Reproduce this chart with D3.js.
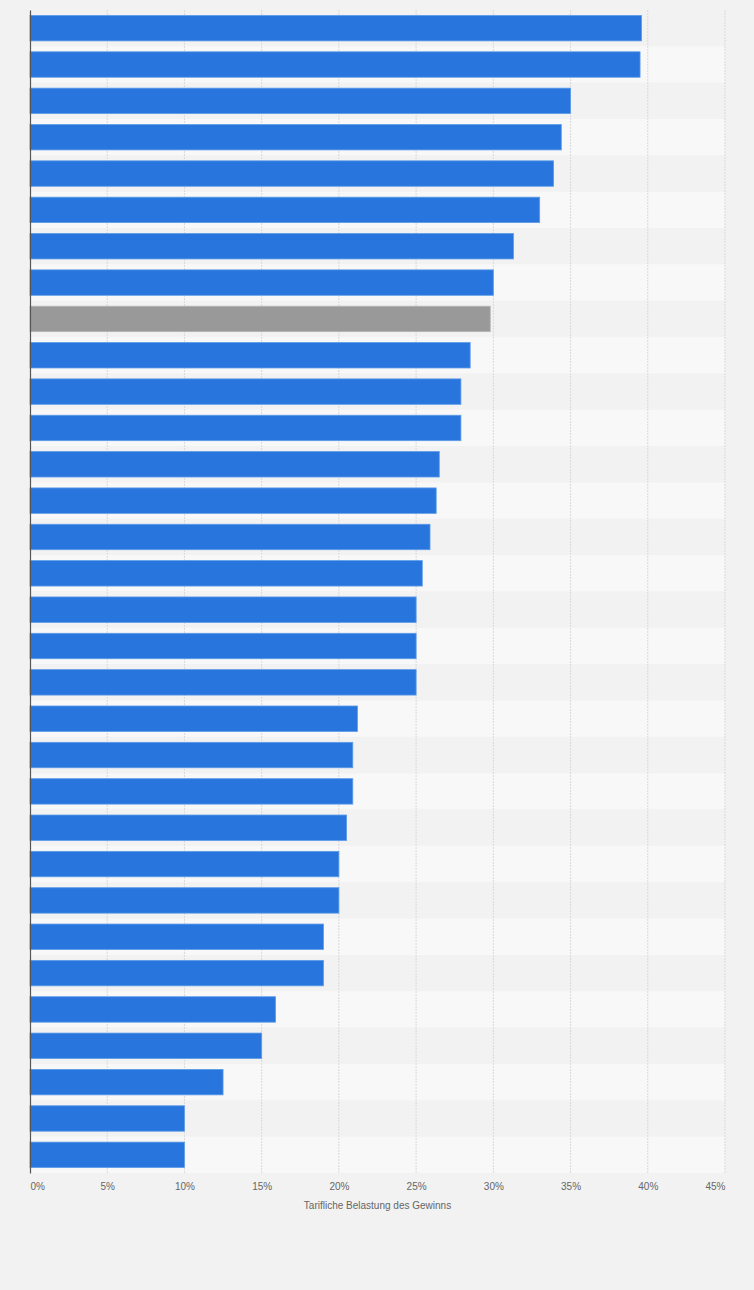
<!DOCTYPE html>
<html>
<head>
<meta charset="utf-8">
<script src="https://cdn.jsdelivr.net/npm/d3@7"></script>
<style>
  body { margin: 0; background: #f2f2f2; }
  svg { display: block; }
  .tick text { font-family: "Liberation Sans", Arial, sans-serif; font-size: 10px; fill: #666; }
</style>
</head>
<body>
<div id="chart"></div>
<script>
// Chart data
const categories = d3.range(1, 33).map(i => "Land " + i);
const values = [39.6, 39.5, 35, 34.4, 33.9, 33, 31.3, 30, 29.8, 28.5, 27.9, 27.9,
    26.5, 26.3, 25.9, 25.4, 25, 25, 25, 21.2, 20.9, 20.9, 20.5, 20,
    20, 19, 19, 15.9, 15, 12.5, 10, 10];
const highlighted = [8];
const xTicks = [0, 5, 10, 15, 20, 25, 30, 35, 40, 45];
const xTitle = "Tarifliche Belastung des Gewinns";

const data = categories.map((c, i) => ({ name: c, value: values[i], idx: i }));

// SVG dimensions
const svgWidth = 754;
const svgHeight = 1290;
const margin = { top: 10, right: 29, bottom: 117, left: 30 };
const width = svgWidth - margin.left - margin.right;
const height = svgHeight - margin.top - margin.bottom;

const svg = d3.select("#chart")
    .append("svg")
    .attr("width", svgWidth)
    .attr("height", svgHeight);

svg.append("rect")
    .attr("width", svgWidth)
    .attr("height", svgHeight)
    .attr("fill", "#f2f2f2");

const chartGroup = svg.append("g")
    .attr("transform", `translate(${margin.left}, ${margin.top})`);

// Scales
const x = d3.scaleLinear()
    .domain([0, 45])
    .range([0, width]);

const rows = d3.scaleBand()
    .domain(categories)
    .range([0, height]);

const y = d3.scaleBand()
    .domain(categories)
    .range([0, height])
    .paddingInner(0.3)
    .paddingOuter(0.15);

// Striped row background
chartGroup.selectAll(".stripe")
    .data(data)
    .enter()
    .append("rect")
    .attr("class", "stripe")
    .attr("x", 0)
    .attr("y", d => rows(d.name))
    .attr("width", width)
    .attr("height", rows.bandwidth())
    .attr("fill", d => d.idx % 2 ? "#f8f8f8" : "#f2f2f2");

// Dashed gridlines
chartGroup.append("g")
    .selectAll("line")
    .data(xTicks.slice(1))
    .enter()
    .append("line")
    .attr("x1", d => x(d))
    .attr("x2", d => x(d))
    .attr("y1", 0)
    .attr("y2", height)
    .attr("stroke", "#d9d9d9")
    .attr("stroke-width", 1)
    .attr("stroke-dasharray", "2,1");

// Bars
chartGroup.selectAll(".bar")
    .data(data)
    .enter()
    .append("rect")
    .attr("class", "bar")
    .attr("x", x(0))
    .attr("y", d => y(d.name))
    .attr("width", d => x(d.value) - x(0))
    .attr("height", y.bandwidth())
    .attr("fill", d => highlighted.includes(d.idx) ? "#999999" : "#2876dd")
    .attr("stroke", d => highlighted.includes(d.idx) ? "#b5b5b5" : "#5d9be8")
    .attr("stroke-width", 0.8);

// Axes
const xAxis = d3.axisBottom(x)
    .tickValues(xTicks)
    .tickSize(0)
    .tickPadding(10)
    .tickFormat(d => d + "%");

const xAxisG = chartGroup.append("g")
    .attr("transform", `translate(0, ${height})`)
    .call(xAxis);
xAxisG.select(".domain").remove();
xAxisG.selectAll(".tick text")
    .attr("text-anchor", d => d === 0 ? "start" : d === 45 ? "end" : "middle");

const yAxis = d3.axisLeft(y).tickSize(0).tickFormat("");
const yAxisG = chartGroup.append("g").call(yAxis);
yAxisG.select(".domain")
    .attr("stroke", "#555")
    .attr("stroke-width", 1.2);

// Axis title
chartGroup.append("text")
    .attr("x", width / 2)
    .attr("y", height + 36)
    .attr("text-anchor", "middle")
    .attr("font-family", "Liberation Sans, Arial, sans-serif")
    .attr("font-size", "10px")
    .attr("fill", "#666")
    .text(xTitle);
</script>
</body>
</html>
